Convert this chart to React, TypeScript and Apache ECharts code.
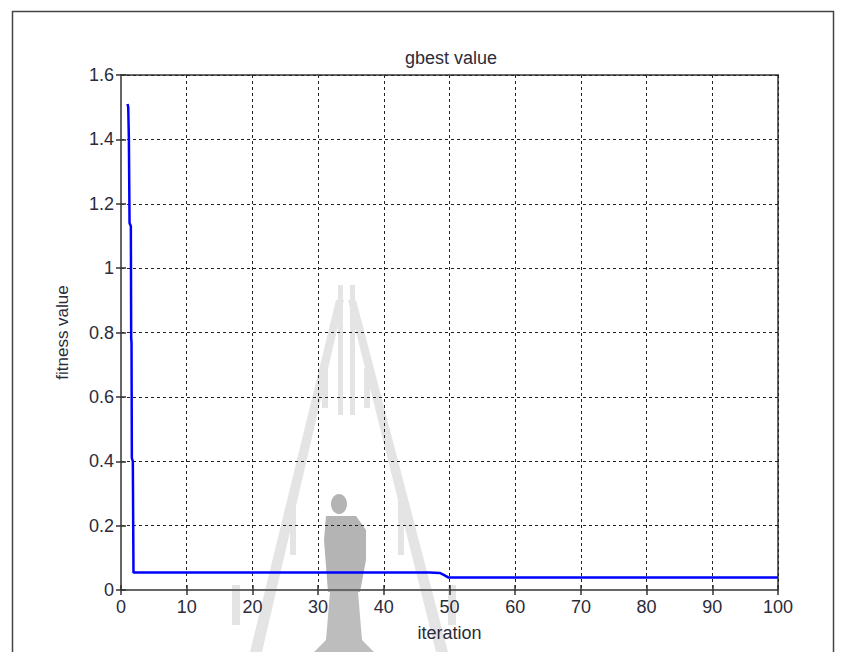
import React, { useEffect, useRef } from "react";
import * as echarts from "echarts";

const iterations = [1, 1.1, 1.2, 1.3, 1.5, 1.55, 1.6, 1.65, 1.8, 1.9, 2, 10, 20, 30, 40, 47, 48.5, 49.2, 49.8, 50, 60, 70, 80, 90, 100];
const fitness = [1.51, 1.5, 1.4, 1.14, 1.13, 0.78, 0.77, 0.41, 0.4, 0.054, 0.054, 0.054, 0.054, 0.054, 0.054, 0.054, 0.053, 0.046, 0.039, 0.0385, 0.0385, 0.0385, 0.0385, 0.0385, 0.0385];
const xTicks = [0, 10, 20, 30, 40, 50, 60, 70, 80, 90, 100];
const yTicks = [0, 0.2, 0.4, 0.6, 0.8, 1, 1.2, 1.4, 1.6];

const FONT = "Liberation Sans, Arial, sans-serif";
const TXT = "#2b2b3a";

export default function App() {
  const ref = useRef<HTMLDivElement>(null);
  useEffect(() => {
    if (!ref.current) return;
    const chart = echarts.init(ref.current, null, { renderer: "svg" });
    const gridLine = { show: true, lineStyle: { color: "#222", width: 1, type: [3, 3] as any } };
    const axisLine = { show: true, lineStyle: { color: "#666", width: 2 } };
    const tick = { show: true, inside: true, length: 5, lineStyle: { color: "#333", width: 1.5 } };
    const wm = "#e4e4e4";
    chart.setOption({
      animation: false,
      backgroundColor: "#fff",
      grid: { left: 121, top: 75, width: 657, height: 515, show: true, borderColor: "#666", borderWidth: 2 },
      title: {
        text: "gbest value",
        left: 446,
        top: 44,
        textAlign: "center",
        textStyle: { fontFamily: FONT, fontSize: 18, fontWeight: "normal", color: TXT },
      },
      xAxis: [
        {
          type: "value",
          min: 0,
          max: 100,
          interval: 10,
          name: "iteration",
          nameLocation: "middle",
          nameGap: 34,
          nameTextStyle: { fontFamily: FONT, fontSize: 18, color: TXT },
          axisLine,
          axisTick: tick,
          splitLine: gridLine,
          axisLabel: { fontFamily: FONT, fontSize: 18, color: TXT, margin: 8, formatter: (v: number) => (xTicks.includes(v) ? String(v) : "") },
        },
        {
          type: "value",
          position: "top",
          min: 0,
          max: 100,
          interval: 10,
          axisLine,
          axisTick: tick,
          splitLine: { show: false },
          axisLabel: { show: false },
        },
      ],
      yAxis: [
        {
          type: "value",
          min: 0,
          max: 1.6,
          interval: 0.2,
          name: "fitness value",
          nameLocation: "middle",
          nameGap: 50,
          nameTextStyle: { fontFamily: FONT, fontSize: 17, color: TXT },
          axisLine,
          axisTick: tick,
          splitLine: gridLine,
          axisLabel: {
            fontFamily: FONT,
            fontSize: 18,
            color: TXT,
            margin: 7,
            formatter: (v: number) => {
              const r = Math.round(v * 10) / 10;
              return yTicks.some((t) => Math.abs(t - r) < 1e-6) ? String(r) : "";
            },
          },
        },
        {
          type: "value",
          position: "right",
          min: 0,
          max: 1.6,
          interval: 0.2,
          axisLine,
          axisTick: tick,
          splitLine: { show: false },
          axisLabel: { show: false },
        },
      ],
      series: [
        {
          type: "line",
          xAxisIndex: 0,
          yAxisIndex: 0,
          data: iterations.map((x, i) => [x, fitness[i]]),
          showSymbol: false,
          lineStyle: { color: "#0000ff", width: 2.5 },
          z: 5,
        },
      ],
      graphic: [
        {
          type: "polyline",
          shape: { points: [[12.5, 660], [12.5, 11.5], [833.5, 11.5], [833.5, 660]] },
          style: { stroke: "#444", lineWidth: 1.5, fill: "none" },
          silent: true,
        },
        // faint watermark (approximation of logo)
        { type: "polygon", z: -10, silent: true, shape: { points: [[336, 300], [344, 300], [262, 652], [250, 652]] }, style: { fill: wm } },
        { type: "polygon", z: -10, silent: true, shape: { points: [[348, 300], [356, 300], [448, 652], [436, 652]] }, style: { fill: wm } },
        { type: "rect", z: -10, silent: true, shape: { x: 338, y: 285, width: 5, height: 130 }, style: { fill: wm } },
        { type: "rect", z: -10, silent: true, shape: { x: 350, y: 285, width: 5, height: 130 }, style: { fill: wm } },
        { type: "rect", z: -10, silent: true, shape: { x: 322, y: 368, width: 6, height: 40 }, style: { fill: wm } },
        { type: "rect", z: -10, silent: true, shape: { x: 364, y: 368, width: 6, height: 40 }, style: { fill: wm } },
        { type: "rect", z: -10, silent: true, shape: { x: 290, y: 495, width: 6, height: 60 }, style: { fill: wm } },
        { type: "rect", z: -10, silent: true, shape: { x: 398, y: 495, width: 6, height: 60 }, style: { fill: wm } },
        { type: "rect", z: -10, silent: true, shape: { x: 232, y: 585, width: 8, height: 40 }, style: { fill: wm } },
        { type: "rect", z: -10, silent: true, shape: { x: 448, y: 585, width: 8, height: 40 }, style: { fill: wm } },
        { type: "ellipse", z: -9, silent: true, shape: { cx: 339, cy: 504, rx: 8, ry: 10 }, style: { fill: "#b4b4b4" } },
        { type: "polygon", z: -9, silent: true, shape: { points: [[326, 516], [356, 516], [366, 530], [366, 560], [360, 592], [328, 592], [324, 540]] }, style: { fill: "#b4b4b4" } },
        { type: "polygon", z: -9, silent: true, shape: { points: [[330, 592], [358, 592], [362, 640], [374, 652], [314, 652], [326, 640]] }, style: { fill: "#bdbdbd" } },
      ],
    });
    return () => chart.dispose();
  }, []);
  return <div ref={ref} style={{ position: "fixed", left: 0, top: 0, width: 845, height: 652 }} />;
}
